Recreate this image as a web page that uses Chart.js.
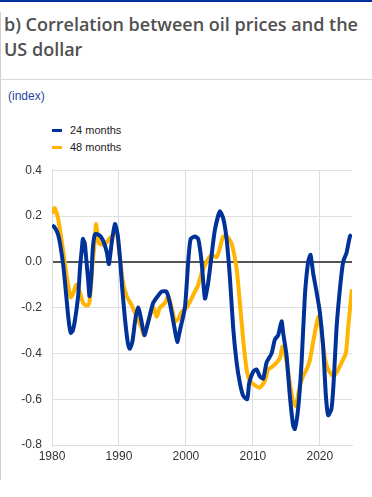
<!DOCTYPE html>
<html>
<head>
<meta charset="utf-8">
<script src="https://cdn.jsdelivr.net/npm/chart.js@4"></script>
<style>
  html, body { margin: 0; padding: 0; background: #fff; }
  body { width: 372px; height: 497px; position: relative; overflow: hidden; font-family: "Liberation Sans", Arial, sans-serif; }
  .topbar { position: absolute; left: 0; top: 0; width: 372px; height: 2px; background: #003299; }
  .leftbar { position: absolute; left: 0; top: 12px; width: 1px; height: 468px; background: #d0d0d0; }
  .title { position: absolute; left: 4px; top: 12px; width: 366px; font-family: "Open Sans", sans-serif; font-size: 18px; font-weight: 600; line-height: 25px; color: #505050; }
  .sep { position: absolute; left: 0; top: 79px; width: 372px; height: 1px; background: #d8d8d8; }
  .unit { position: absolute; left: 8px; top: 89px; font-size: 12px; color: #1f45a0; }
  .legend { position: absolute; left: 52px; top: 122px; font-size: 11px; color: #222; }
  .legend div { height: 17px; line-height: 17px; display: flex; align-items: center; }
  .legend span.sw { display: inline-block; width: 10px; height: 3px; margin-right: 8px; }
  #wrap { position: absolute; left: 0; top: 153px; width: 372px; height: 327px; }
</style>
</head>
<body>
<div class="topbar"></div>
<div class="leftbar"></div>
<div class="title">b) Correlation between oil prices and the US dollar</div>
<div class="sep"></div>
<div class="unit">(index)</div>
<div class="legend">
  <div><span class="sw" style="background:#003299"></span>24 months</div>
  <div><span class="sw" style="background:#ffb400"></span>48 months</div>
</div>
<div id="wrap"><canvas id="chart"></canvas></div>
<script>
// 24-month rolling correlation (year, value)
const years24 = [1980.0, 1980.4, 1980.9, 1981.2, 1981.7, 1982.1, 1982.5, 1982.8, 1983.1, 1983.4, 1983.9, 1984.2, 1984.5, 1984.6, 1984.9, 1985.0, 1985.4, 1985.6, 1985.9, 1986.1, 1986.4, 1986.8, 1987.3, 1987.8, 1988.2, 1988.5, 1988.9, 1989.4, 1989.8, 1990.2, 1990.5, 1990.9, 1991.3, 1991.6, 1992.0, 1992.5, 1992.9, 1993.3, 1993.8, 1994.3, 1995.1, 1995.8, 1996.4, 1997.1, 1997.6, 1998.3, 1998.7, 1999.1, 1999.85, 2000.34, 2000.7, 2001.34, 2001.84, 2002.34, 2002.84, 2003.33, 2003.84, 2004.33, 2005.07, 2005.57, 2006.07, 2006.57, 2007.06, 2007.57, 2008.06, 2008.55, 2009.15, 2009.45, 2010.04, 2010.55, 2011.04, 2011.54, 2012.04, 2012.79, 2013.28, 2013.78, 2014.28, 2014.52, 2015.03, 2015.52, 2016.01, 2016.27, 2016.76, 2017.27, 2017.76, 2018.25, 2018.61, 2019.0, 2019.5, 2020.0, 2020.49, 2020.9, 2021.24, 2021.75, 2022.09, 2022.49, 2022.99, 2023.48, 2023.99, 2024.48, 2024.73];
const values24 = [0.16, 0.15, 0.12, 0.08, -0.02, -0.14, -0.26, -0.31, -0.30, -0.26, -0.15, -0.02, 0.07, 0.10, 0.08, 0.05, -0.08, -0.15, -0.05, 0.06, 0.12, 0.12, 0.11, 0.08, 0.04, -0.01, 0.08, 0.165, 0.12, 0.00, -0.12, -0.25, -0.35, -0.38, -0.35, -0.24, -0.20, -0.25, -0.32, -0.27, -0.18, -0.15, -0.13, -0.13, -0.18, -0.29, -0.35, -0.30, -0.20, 0.00, 0.10, 0.11, 0.10, 0.00, -0.16, -0.09, 0.03, 0.14, 0.22, 0.19, 0.10, -0.07, -0.29, -0.44, -0.53, -0.585, -0.60, -0.53, -0.48, -0.47, -0.50, -0.51, -0.44, -0.40, -0.34, -0.32, -0.26, -0.31, -0.41, -0.585, -0.715, -0.73, -0.64, -0.44, -0.15, 0.00, 0.03, -0.05, -0.13, -0.22, -0.37, -0.585, -0.67, -0.64, -0.51, -0.29, -0.12, 0.00, 0.04, 0.11, 0.12];

// 48-month rolling correlation (year, value)
const years48 = [1980.0, 1980.4, 1980.9, 1981.4, 1981.65, 1982.13, 1982.4, 1982.8, 1983.13, 1983.63, 1984.13, 1984.63, 1985.07, 1985.37, 1985.57, 1985.87, 1986.07, 1986.37, 1986.57, 1987.06, 1987.8, 1988.55, 1989.3, 1989.6, 1990.1, 1990.55, 1991.15, 1991.9, 1992.64, 1993.39, 1993.73, 1994.37, 1995.12, 1995.63, 1996.12, 1996.87, 1997.36, 1997.87, 1998.36, 1998.85, 1999.36, 2000.1, 2000.85, 2001.34, 2001.84, 2002.34, 2003.09, 2003.84, 2004.58, 2005.07, 2005.57, 2006.16, 2006.82, 2007.57, 2008.06, 2008.55, 2009.06, 2009.55, 2010.3, 2011.04, 2011.79, 2012.28, 2012.79, 2013.54, 2014.03, 2014.43, 2014.93, 2015.52, 2016.01, 2016.42, 2016.91, 2017.42, 2018.01, 2018.51, 2019.0, 2019.51, 2019.81, 2020.25, 2020.75, 2021.24, 2021.99, 2022.58, 2023.24, 2023.88, 2024.22, 2024.58, 2024.78];
const values48 = [0.21, 0.235, 0.19, 0.10, 0.05, -0.05, -0.10, -0.155, -0.14, -0.10, -0.13, -0.18, -0.19, -0.19, -0.18, -0.09, 0.00, 0.08, 0.165, 0.08, 0.075, 0.10, 0.125, 0.14, 0.03, -0.08, -0.15, -0.19, -0.24, -0.29, -0.32, -0.26, -0.20, -0.24, -0.20, -0.18, -0.15, -0.20, -0.26, -0.25, -0.22, -0.20, -0.16, -0.13, -0.10, -0.05, 0.00, 0.03, 0.02, 0.06, 0.11, 0.11, 0.08, -0.03, -0.18, -0.34, -0.47, -0.52, -0.54, -0.55, -0.52, -0.47, -0.46, -0.44, -0.42, -0.37, -0.42, -0.53, -0.61, -0.63, -0.555, -0.505, -0.47, -0.43, -0.35, -0.27, -0.24, -0.31, -0.42, -0.47, -0.50, -0.48, -0.44, -0.40, -0.29, -0.18, -0.12];

const xTicks = [1980, 1990, 2000, 2010, 2020];
const yTicks = [0.4, 0.2, 0.0, -0.2, -0.4, -0.6, -0.8];

function toPoints(xs, ys) {
  return xs.map((x, i) => ({ x: x, y: ys[i] }));
}

const tickFont = { family: '"Liberation Sans", Arial, sans-serif', size: 12 };

new Chart(document.getElementById('chart'), {
  type: 'line',
  data: {
    datasets: [
      {
        label: '24 months',
        data: toPoints(years24, values24),
        borderColor: '#003299',
        borderWidth: 4,
        pointRadius: 0,
        tension: 0.2
      },
      {
        label: '48 months',
        data: toPoints(years48, values48),
        borderColor: '#ffb400',
        borderWidth: 4,
        pointRadius: 0,
        tension: 0.2
      }
    ]
  },
  options: {
    responsive: true,
    maintainAspectRatio: false,
    animation: false,
    layout: { padding: { top: 3, right: 20, left: 0, bottom: 0 } },
    plugins: { legend: { display: false }, tooltip: { enabled: false } },
    scales: {
      x: {
        type: 'linear',
        min: 1980,
        max: 2024.8,
        afterBuildTicks: axis => { axis.ticks = xTicks.map(v => ({ value: v })); },
        afterFit: axis => { axis.height = 35; },
        ticks: { color: '#333', font: tickFont, padding: 4, maxRotation: 0, callback: v => String(v) },
        grid: { color: '#dcdcdc', lineWidth: 1, drawTicks: false },
        border: { color: '#dcdcdc' }
      },
      y: {
        min: -0.8,
        max: 0.4,
        afterBuildTicks: axis => { axis.ticks = yTicks.map(v => ({ value: v })); },
        afterFit: axis => { axis.width = 52; },
        ticks: { color: '#333', font: tickFont, padding: 10, callback: v => v.toFixed(1) },
        grid: {
          drawTicks: false,
          color: ctx => (ctx.tick && Math.abs(ctx.tick.value) < 1e-9) ? '#555' : '#e0e0e0',
          lineWidth: ctx => (ctx.tick && Math.abs(ctx.tick.value) < 1e-9) ? 2 : 1
        },
        border: { color: '#dcdcdc' }
      }
    }
  }
});
</script>
</body>
</html>
